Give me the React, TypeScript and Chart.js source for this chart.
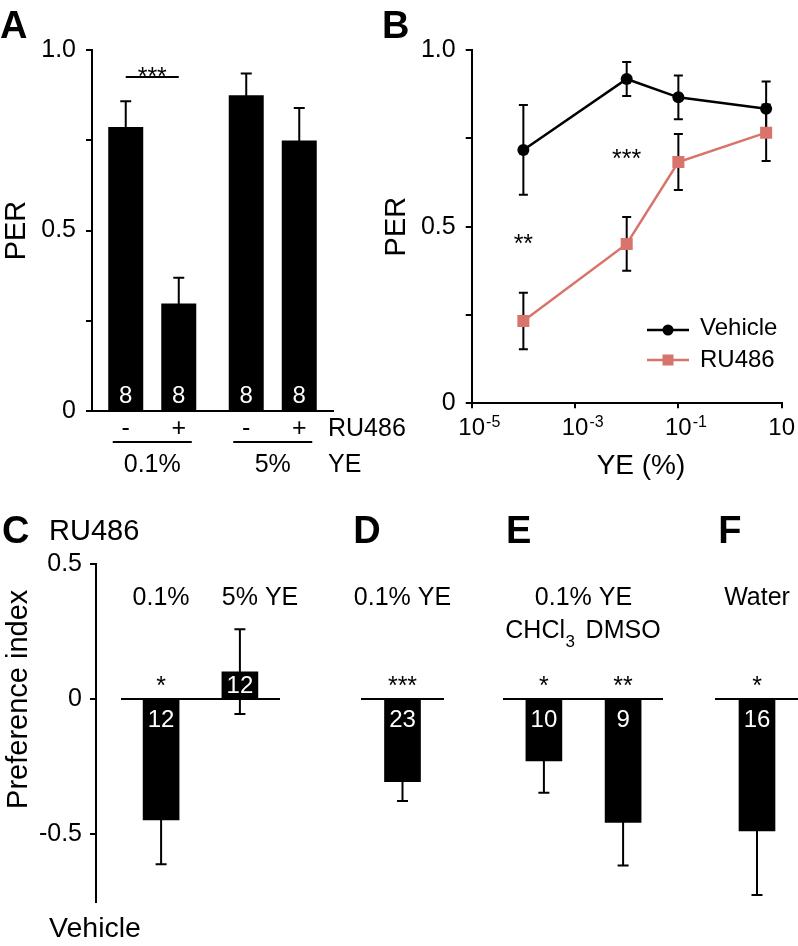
import React, { useEffect, useRef } from 'react';
import { Chart, registerables } from 'chart.js';

Chart.register(...registerables);

const FONT = "'Liberation Sans', Arial, Helvetica, sans-serif";
const BLACK = '#000000';
const RU_COLOR = '#d8746b';

// ---------- Panel A : PER bars ----------
const groupsA = ['0.1%', '5%'];
const perVehicleA = [0.787, 0.875];
const perRu486A = [0.298, 0.749];
const errVehicleA = [0.071, 0.06];
const errRu486A = [0.071, 0.09];
const nVehicleA = [8, 8];
const nRu486A = [8, 8];
const sigLevelA = 0.925;
const sigTextA = '***';

// shared PER axis ticks
const perTicks = [0, 0.25, 0.5, 0.75, 1];
const perTickLabels = ['0', '', '0.5', '', '1.0'];

// ---------- Panel B : dose response ----------
const yeDoses = [0.0001, 0.01, 0.1, 5];
const perVehicleB = [0.717, 0.918, 0.866, 0.834];
const errVehicleB = [0.127, 0.048, 0.062, 0.077];
const perRu486B = [0.233, 0.451, 0.683, 0.766];
const errRu486B = [0.08, 0.076, 0.079, 0.08];
const xTickExponents = [-5, -3, -1, 1];
const sigTextB = ['**', '***'];
const sigDosesB = [0.0001, 0.01];
const sigLevelsB = [0.468, 0.711];

// ---------- Panels C-F : preference index ----------
const piTicks = [-0.5, 0, 0.5];
const piTickLabels = ['-0.5', '0', '0.5'];

const labelsC = ['0.1%', '5% YE'];
const valuesC = [-0.447, 0.102];
const errorsC = [0.164, 0.157];
const nC = [12, 12];
const sigC = ['*', ''];

const labelsD = ['0.1% YE'];
const valuesD = [-0.305];
const errorsD = [0.072];
const nD = [23];
const sigD = ['***'];

const labelsE = ['CHCl3', 'DMSO'];
const valuesE = [-0.228, -0.456];
const errorsE = [0.118, 0.16];
const nE = [10, 9];
const sigE = ['*', '**'];

const labelsF = ['Water'];
const valuesF = [-0.488];
const errorsF = [0.237];
const nF = [16];
const sigF = ['*'];

// ---------- helpers ----------
const font = (size: number, bold = false) => `${bold ? 'bold ' : ''}${size}px ${FONT}`;

function txt(ctx: any, s: string, x: number, y: number, size: number, align: any = 'left', color = BLACK, bold = false) {
  ctx.save();
  ctx.font = font(size, bold);
  ctx.fillStyle = color;
  ctx.textAlign = align;
  ctx.textBaseline = 'alphabetic';
  ctx.fillText(s, x, y);
  ctx.restore();
}

function line(ctx: any, x1: number, y1: number, x2: number, y2: number, color = BLACK, w = 2) {
  ctx.save();
  ctx.strokeStyle = color;
  ctx.lineWidth = w;
  ctx.beginPath();
  ctx.moveTo(x1, y1);
  ctx.lineTo(x2, y2);
  ctx.stroke();
  ctx.restore();
}

function errBar(ctx: any, x: number, yTop: number, yBot: number, cap: number) {
  ctx.save();
  ctx.strokeStyle = BLACK;
  ctx.lineWidth = 2;
  ctx.beginPath();
  ctx.moveTo(x, yTop);
  ctx.lineTo(x, yBot);
  ctx.moveTo(x - cap, yTop);
  ctx.lineTo(x + cap, yTop);
  ctx.moveTo(x - cap, yBot);
  ctx.lineTo(x + cap, yBot);
  ctx.stroke();
  ctx.restore();
}

const axisGrid = { display: true, drawOnChartArea: false, drawTicks: true, tickLength: 6, color: BLACK, lineWidth: 2 };
const axisBorder = { display: true, color: BLACK, width: 2 };

function perYScale(width: number) {
  return {
    min: 0,
    max: 1,
    afterBuildTicks: (s: any) => { s.ticks = perTicks.map((v) => ({ value: v })); },
    ticks: {
      color: BLACK,
      font: { size: 25, family: FONT },
      padding: 10,
      callback: (v: any) => perTickLabels[perTicks.indexOf(Number(v))] ?? '',
    },
    grid: axisGrid,
    border: axisBorder,
    title: { display: true, text: 'PER', color: BLACK, font: { size: 29, family: FONT }, padding: 0 },
    afterFit: (s: any) => { s.width = width; },
  };
}

const baseOpts = {
  responsive: false,
  animation: false,
  devicePixelRatio: 1,
  events: [],
};

function prefChart(canvas: HTMLCanvasElement, labels: string[], values: number[], errors: number[], ns: number[], sig: string[], padLeft: number, padRight: number, extra: (chart: any) => void) {
  const plugin = {
    id: 'prefDecor',
    afterDatasetsDraw(chart: any) {
      const { ctx } = chart;
      const ys = chart.scales.y;
      const y0 = ys.getPixelForValue(0);
      chart.getDatasetMeta(0).data.forEach((el: any, i: number) => {
        errBar(ctx, el.x, ys.getPixelForValue(values[i] + errors[i]), ys.getPixelForValue(values[i] - errors[i]), 5.5);
        const yLabel = values[i] < 0 ? y0 + 28 : y0 - 6;
        txt(ctx, String(ns[i]), el.x, yLabel, 24, 'center', '#ffffff');
        if (sig[i]) txt(ctx, sig[i], el.x, y0 - 5, 25, 'center');
      });
    },
    afterDraw(chart: any) { extra(chart); },
  };
  return new Chart(canvas, {
    type: 'bar',
    data: {
      labels,
      datasets: [{ label: 'Preference index', data: values, backgroundColor: BLACK, barThickness: 36 }],
    },
    options: {
      ...baseOpts,
      layout: { padding: { left: padLeft, right: padRight, top: 94.3, bottom: 44.3 } },
      plugins: { legend: { display: false }, tooltip: { enabled: false } },
      scales: {
        x: {
          type: 'category',
          position: { y: 0 },
          grid: { display: false },
          ticks: { display: false },
          border: axisBorder,
        },
        y: { display: false, min: -0.75, max: 0.5 },
      },
    } as any,
    plugins: [plugin],
  } as any);
}

export default function App() {
  const refA = useRef<HTMLCanvasElement>(null);
  const refB = useRef<HTMLCanvasElement>(null);
  const refAxis = useRef<HTMLCanvasElement>(null);
  const refC = useRef<HTMLCanvasElement>(null);
  const refD = useRef<HTMLCanvasElement>(null);
  const refE = useRef<HTMLCanvasElement>(null);
  const refF = useRef<HTMLCanvasElement>(null);

  useEffect(() => {
    document.body.style.margin = '0';
    const charts: Chart[] = [];

    // ---------- A ----------
    const pluginA = {
      id: 'panelA',
      afterDatasetsDraw(chart: any) {
        const { ctx } = chart;
        const ys = chart.scales.y;
        const sets: [number[], number[], number[]][] = [
          [perVehicleA, errVehicleA, nVehicleA],
          [perRu486A, errRu486A, nRu486A],
        ];
        sets.forEach(([vals, errs, ns], di) => {
          chart.getDatasetMeta(di).data.forEach((el: any, i: number) => {
            errBar(ctx, el.x, ys.getPixelForValue(vals[i] + errs[i]), ys.getPixelForValue(vals[i] - errs[i]), 5.5);
            txt(ctx, String(ns[i]), el.x, ys.getPixelForValue(0) - 8, 24, 'center', '#ffffff');
          });
        });
      },
      afterDraw(chart: any) {
        const { ctx, chartArea } = chart;
        const ys = chart.scales.y;
        txt(ctx, 'A', 0, 38, 38, 'left', BLACK, true);
        const m0 = chart.getDatasetMeta(0).data;
        const m1 = chart.getDatasetMeta(1).data;
        groupsA.forEach((g, i) => {
          const x0 = m0[i].x;
          const x1 = m1[i].x;
          txt(ctx, '-', x0, 436, 25, 'center');
          txt(ctx, '+', x1, 436, 25, 'center');
          line(ctx, x0 - 13, 442, x1 + 13, 442);
          txt(ctx, g, (x0 + x1) / 2, 472, 25, 'center');
        });
        txt(ctx, 'RU486', chartArea.right - 5, 436, 25);
        txt(ctx, 'YE', chartArea.right - 5, 472, 25);
        const ySig = ys.getPixelForValue(sigLevelA);
        line(ctx, m0[0].x, ySig, m1[0].x, ySig);
        txt(ctx, sigTextA, (m0[0].x + m1[0].x) / 2, ySig + 8, 25, 'center');
      },
    };
    charts.push(new Chart(refA.current!, {
      type: 'bar',
      data: {
        labels: groupsA,
        datasets: [
          { label: 'Vehicle', data: perVehicleA, backgroundColor: BLACK, categoryPercentage: 0.88, barPercentage: 0.66 },
          { label: 'RU486', data: perRu486A, backgroundColor: BLACK, categoryPercentage: 0.88, barPercentage: 0.66 },
        ],
      },
      options: {
        ...baseOpts,
        layout: { padding: { left: 0, top: 50, right: 420 - 333, bottom: 480 - 411 } },
        plugins: { legend: { display: false }, tooltip: { enabled: false } },
        scales: {
          x: { grid: { display: false }, ticks: { display: false }, border: axisBorder, afterFit: (s: any) => { s.height = 0; } },
          y: perYScale(92),
        },
      } as any,
      plugins: [pluginA],
    } as any));

    // ---------- B ----------
    const pluginB = {
      id: 'panelB',
      beforeDatasetsDraw(chart: any) {
        const { ctx } = chart;
        const ys = chart.scales.y;
        const sets: [number[], number[]][] = [[perVehicleB, errVehicleB], [perRu486B, errRu486B]];
        sets.forEach(([vals, errs], di) => {
          chart.getDatasetMeta(di).data.forEach((el: any, i: number) => {
            errBar(ctx, el.x, ys.getPixelForValue(vals[i] + errs[i]), ys.getPixelForValue(vals[i] - errs[i]), 4.5);
          });
        });
      },
      afterDraw(chart: any) {
        const { ctx } = chart;
        const xs = chart.scales.x;
        const ys = chart.scales.y;
        txt(ctx, 'B', 2, 38, 38, 'left', BLACK, true);
        // x tick labels with superscripts
        xTickExponents.forEach((e) => {
          const px = xs.getPixelForValue(Math.pow(10, e));
          ctx.save();
          ctx.font = font(24);
          const w10 = ctx.measureText('10').width;
          ctx.restore();
          txt(ctx, '10', px - w10 / 2, 435, 24);
          if (e !== 1) txt(ctx, String(e), px + w10 / 2 + 1, 427, 16);
        });
        txt(ctx, 'YE (%)', 261, 474, 28, 'center');
        // stars
        sigTextB.forEach((s, i) => {
          txt(ctx, s, xs.getPixelForValue(sigDosesB[i]), ys.getPixelForValue(sigLevelsB[i]) + 14.4, 25, 'center');
        });
        // legend
        const lx0 = 267, lx1 = 309, mx = 288;
        line(ctx, lx0, 330, lx1, 330, BLACK, 2.5);
        ctx.save();
        ctx.fillStyle = BLACK;
        ctx.beginPath();
        ctx.arc(mx, 330, 5.5, 0, Math.PI * 2);
        ctx.fill();
        ctx.restore();
        txt(ctx, 'Vehicle', 320, 335, 24);
        line(ctx, lx0, 360, lx1, 360, RU_COLOR, 2.5);
        ctx.save();
        ctx.fillStyle = RU_COLOR;
        ctx.fillRect(mx - 5.5, 360 - 5.5, 11, 11);
        ctx.restore();
        txt(ctx, 'RU486', 320, 367, 24);
      },
    };
    charts.push(new Chart(refB.current!, {
      type: 'line',
      data: {
        datasets: [
          {
            label: 'Vehicle',
            data: yeDoses.map((x, i) => ({ x, y: perVehicleB[i] })),
            borderColor: BLACK,
            backgroundColor: BLACK,
            borderWidth: 2.5,
            pointStyle: 'circle',
            pointRadius: 6,
            pointBorderWidth: 0,
            tension: 0,
          },
          {
            label: 'RU486',
            data: yeDoses.map((x, i) => ({ x, y: perRu486B[i] })),
            borderColor: RU_COLOR,
            backgroundColor: RU_COLOR,
            borderWidth: 2.5,
            pointStyle: 'rect',
            pointRadius: 8.5,
            pointBorderWidth: 0,
            tension: 0,
          },
        ],
      },
      options: {
        ...baseOpts,
        layout: { padding: { left: 0, top: 50, right: 418 - 401.7, bottom: 480 - 403.3 } },
        plugins: { legend: { display: false }, tooltip: { enabled: false } },
        scales: {
          x: {
            type: 'logarithmic',
            min: 1e-5,
            max: 10,
            afterBuildTicks: (s: any) => { s.ticks = xTickExponents.map((e) => ({ value: Math.pow(10, e) })); },
            ticks: { display: false },
            grid: { display: true, drawOnChartArea: false, drawTicks: true, tickLength: 5, color: BLACK, lineWidth: 2 },
            border: axisBorder,
            afterFit: (s: any) => { s.height = 0; },
          },
          y: perYScale(91.7),
        },
      } as any,
      plugins: [pluginB],
    } as any));

    // ---------- C-F shared axis ----------
    const pluginAxis = {
      id: 'prefAxis',
      afterDraw(chart: any) {
        const { ctx } = chart;
        const ys = chart.scales.y;
        txt(ctx, 'C', 2, 73, 38, 'left', BLACK, true);
        txt(ctx, 'RU486', 49, 70, 29);
        txt(ctx, 'Vehicle', 49, 467, 28.5);
        ctx.save();
        ctx.translate(26.7, ys.getPixelForValue(0));
        ctx.rotate(-Math.PI / 2);
        ctx.font = font(29);
        ctx.fillStyle = BLACK;
        ctx.textAlign = 'center';
        ctx.textBaseline = 'alphabetic';
        ctx.fillText('Preference index', 0, 0);
        ctx.restore();
      },
    };
    charts.push(new Chart(refAxis.current!, {
      type: 'bar',
      data: { labels: [], datasets: [] },
      options: {
        ...baseOpts,
        layout: { padding: { left: 0, right: 0, top: 94.3, bottom: 44.3 } },
        plugins: { legend: { display: false }, tooltip: { enabled: false } },
        scales: {
          x: { display: false },
          y: {
            min: -0.75,
            max: 0.5,
            afterBuildTicks: (s: any) => { s.ticks = piTicks.map((v) => ({ value: v })); },
            ticks: {
              color: BLACK,
              font: { size: 25, family: FONT },
              padding: 8,
              callback: (v: any) => piTickLabels[piTicks.indexOf(Number(v))] ?? '',
            },
            grid: axisGrid,
            border: axisBorder,
            afterFit: (s: any) => { s.width = 96; },
          },
        },
      } as any,
      plugins: [pluginAxis],
    } as any));

    // ---------- C ----------
    charts.push(prefChart(refC.current!, labelsC, valuesC, errorsC, nC, sigC, 21.7, 60.7, (chart: any) => {
      const { ctx } = chart;
      const m = chart.getDatasetMeta(0).data;
      txt(ctx, labelsC[0], m[0].x, 135, 25, 'center');
      ctx.save();
      ctx.font = font(25);
      const w5 = ctx.measureText('5%').width;
      ctx.restore();
      txt(ctx, labelsC[1], m[1].x - w5 / 2, 135, 25, 'left');
    }));

    // ---------- D ----------
    charts.push(prefChart(refD.current!, labelsD, valuesD, errorsD, nD, sigD, 21.7, 26.7, (chart: any) => {
      const { ctx } = chart;
      const m = chart.getDatasetMeta(0).data;
      txt(ctx, 'D', 13.3, 73, 38, 'left', BLACK, true);
      txt(ctx, labelsD[0], m[0].x, 135, 25, 'center');
    }));

    // ---------- E ----------
    charts.push(prefChart(refE.current!, labelsE, valuesE, errorsE, nE, sigE, 34.3, 37.3, (chart: any) => {
      const { ctx, chartArea } = chart;
      const m = chart.getDatasetMeta(0).data;
      txt(ctx, 'E', 36, 73, 38, 'left', BLACK, true);
      txt(ctx, '0.1% YE', (chartArea.left + chartArea.right) / 2, 135, 25, 'center');
      ctx.save();
      ctx.font = font(25);
      const wCHCl = ctx.measureText('CHCl').width;
      ctx.restore();
      const x0 = chartArea.left + 1;
      txt(ctx, 'CHCl', x0, 168.3, 25);
      txt(ctx, '3', x0 + wCHCl + 0.5, 177, 17);
      txt(ctx, labelsE[1], m[1].x, 168.3, 25, 'center');
    }));

    // ---------- F ----------
    charts.push(prefChart(refF.current!, labelsF, valuesF, errorsF, nF, sigF, 16, 0, (chart: any) => {
      const { ctx } = chart;
      const m = chart.getDatasetMeta(0).data;
      txt(ctx, 'F', 18.3, 73, 38, 'left', BLACK, true);
      txt(ctx, labelsF[0], m[0].x, 135, 25, 'center');
    }));

    return () => { charts.forEach((c) => c.destroy()); };
  }, []);

  const abs = (left: number, top: number): React.CSSProperties => ({ position: 'absolute', left, top });

  return (
    <div style={{ position: 'relative', width: 798, height: 946, overflow: 'hidden', background: '#ffffff' }}>
      <canvas ref={refA} width={420} height={480} style={abs(0, 0)} />
      <canvas ref={refB} width={418} height={480} style={abs(380, 0)} />
      <canvas ref={refAxis} width={160} height={476} style={abs(0, 470)} />
      <canvas ref={refC} width={240} height={476} style={abs(100, 470)} />
      <canvas ref={refD} width={130} height={476} style={abs(340, 470)} />
      <canvas ref={refE} width={230} height={476} style={abs(470, 470)} />
      <canvas ref={refF} width={98} height={476} style={abs(700, 470)} />
    </div>
  );
}
